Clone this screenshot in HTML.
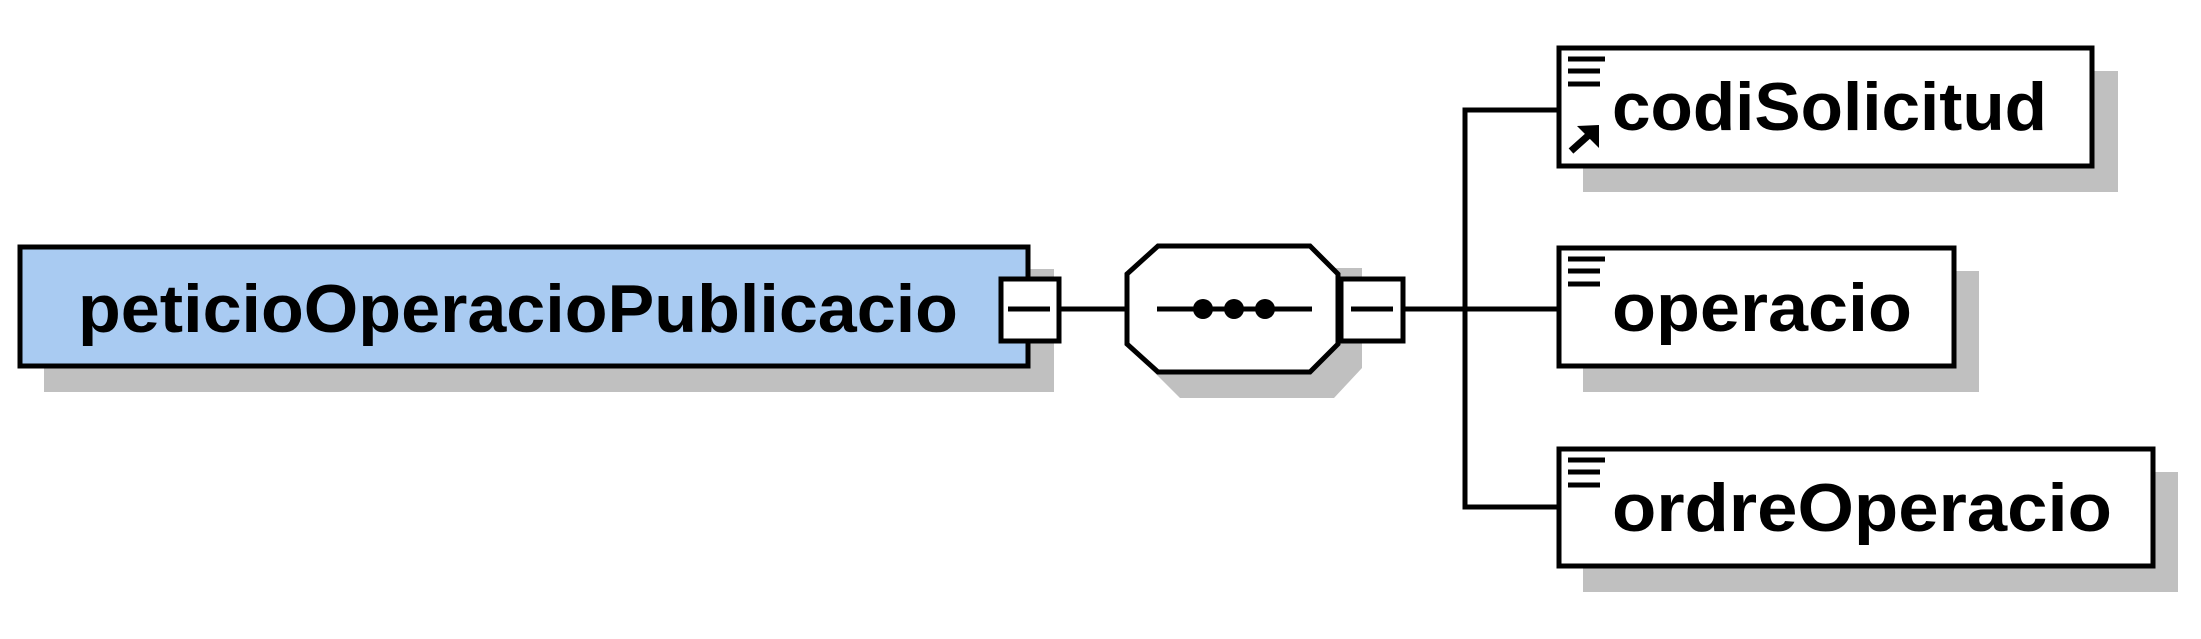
<!DOCTYPE html>
<html><head><meta charset="utf-8"><style>
html,body{margin:0;padding:0;background:#fff;}
svg{display:block;}
text{font-family:"Liberation Sans",Arial,sans-serif;fill:#000;font-weight:bold;}
</style></head><body>
<svg width="2201" height="639" viewBox="0 0 2201 639" xmlns="http://www.w3.org/2000/svg">
<g fill="#c0c0c0">
<rect x="44" y="269" width="1010" height="123"/>
<polygon points="1168,268 1362,268 1362,368 1334,398 1180,398 1150,368"/>
<rect x="1583" y="71" width="535" height="121"/>
<rect x="1583" y="271" width="396" height="121"/>
<rect x="1583" y="472" width="595" height="120"/>
</g>
<rect x="20" y="247" width="1008" height="119" fill="#a9cbf2" stroke="#000" stroke-width="5"/>
<text x="78" y="332" font-size="68" textLength="880" lengthAdjust="spacingAndGlyphs">peticioOperacioPublicacio</text>
<rect x="1001" y="279" width="58" height="62" fill="#fff" stroke="#000" stroke-width="5"/>
<line x1="1008" y1="309" x2="1050" y2="309" stroke="#000" stroke-width="5"/>
<line x1="1059" y1="309" x2="1127" y2="309" stroke="#000" stroke-width="5"/>
<polygon points="1158,246 1310,246 1338,274 1338,344 1310,372 1158,372 1127,344 1127,274" fill="#fff" stroke="#000" stroke-width="5"/>
<line x1="1157" y1="309" x2="1312" y2="309" stroke="#000" stroke-width="5"/>
<circle cx="1203" cy="309" r="10"/>
<circle cx="1234" cy="309" r="10"/>
<circle cx="1265" cy="309" r="10"/>
<rect x="1341" y="279" width="62" height="62" fill="#fff" stroke="#000" stroke-width="5"/>
<line x1="1351" y1="309" x2="1393" y2="309" stroke="#000" stroke-width="5"/>
<g stroke="#000" stroke-width="5" fill="none">
<line x1="1403" y1="309" x2="1558" y2="309"/>
<polyline points="1558,110 1465,110 1465,507 1558,507"/>
</g>
<g fill="#fff" stroke="#000" stroke-width="5">
<rect x="1559" y="48" width="533" height="118"/>
<rect x="1559" y="248" width="395" height="118"/>
<rect x="1559" y="449" width="594" height="117"/>
</g>
<g stroke="#000" stroke-width="5">
<line x1="1568" y1="59" x2="1605" y2="59"/><line x1="1568" y1="71" x2="1600" y2="71"/><line x1="1568" y1="84" x2="1600" y2="84"/>
<line x1="1568" y1="259" x2="1605" y2="259"/><line x1="1568" y1="271" x2="1600" y2="271"/><line x1="1568" y1="284" x2="1600" y2="284"/>
<line x1="1568" y1="460" x2="1605" y2="460"/><line x1="1568" y1="472" x2="1600" y2="472"/><line x1="1568" y1="485" x2="1600" y2="485"/>
</g>
<line x1="1571" y1="151" x2="1590" y2="134" stroke="#000" stroke-width="7"/>
<polygon points="1599,125 1599,148 1577,126" fill="#000"/>
<text x="1612" y="130" font-size="68" textLength="435" lengthAdjust="spacingAndGlyphs">codiSolicitud</text>
<text x="1612" y="331" font-size="68" textLength="300" lengthAdjust="spacingAndGlyphs">operacio</text>
<text x="1612" y="531" font-size="68" textLength="500" lengthAdjust="spacingAndGlyphs">ordreOperacio</text>
</svg>
</body></html>
